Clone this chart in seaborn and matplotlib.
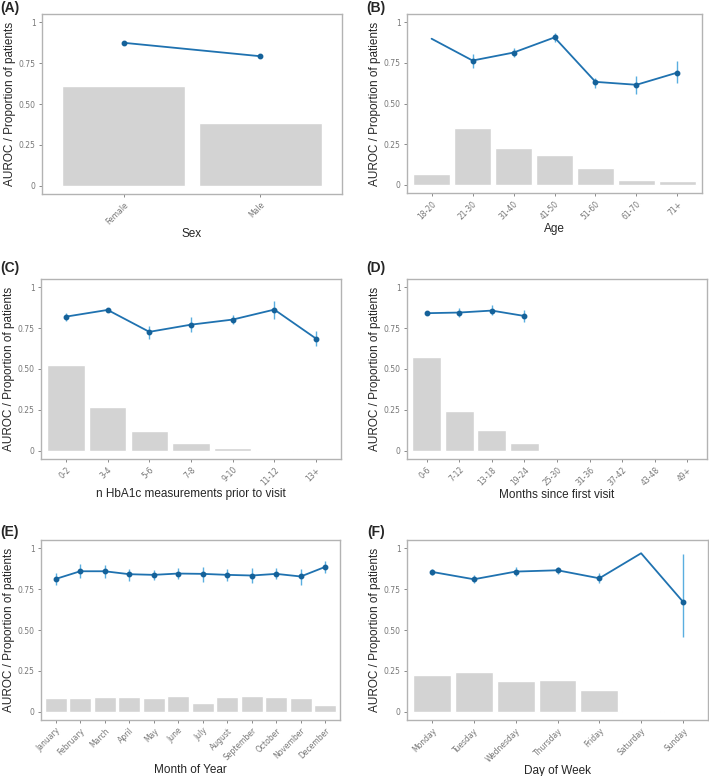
import numpy as np
import pandas as pd
import seaborn as sns
import matplotlib
matplotlib.use("Agg")
import matplotlib.pyplot as plt

# panel categories
sex = ["Female", "Male"]
age = ["18-20", "21-30", "31-40", "41-50", "51-60", "61-70", "71+"]
hba1c = ["0-2", "3-4", "5-6", "7-8", "9-10", "11-12", "13+"]
months = ["0-6", "7-12", "13-18", "19-24", "25-30", "31-36", "37-42", "43-48", "49+"]
month_year = ["January", "February", "March", "April", "May", "June", "July",
              "August", "September", "October", "November", "December"]
weekday = ["Monday", "Tuesday", "Wednesday", "Thursday", "Friday", "Saturday", "Sunday"]

# proportion of patients (bars)
sex_prop = [0.611, 0.383]
age_prop = [0.067, 0.350, 0.226, 0.183, 0.104, 0.029, 0.024]
hba1c_prop = [0.527, 0.265, 0.120, 0.049, 0.016, 0.008, 0.006]
months_prop = [0.573, 0.241, 0.127, 0.049]
month_year_prop = [0.086, 0.082, 0.090, 0.088, 0.086, 0.098, 0.053, 0.088, 0.096, 0.088, 0.082, 0.039]
weekday_prop = [0.222, 0.243, 0.190, 0.194, 0.131, 0.004, 0.004]

# AUROC (line) with CI bounds (nan = no CI)
sex_auc = [0.874, 0.792]
sex_lo = [0.868, 0.786]
sex_hi = [0.880, 0.798]
age_auc = [0.898, 0.764, 0.813, 0.906, 0.633, 0.615, 0.690]
age_lo = [np.nan, 0.719, 0.787, 0.879, 0.593, 0.561, 0.629]
age_hi = [np.nan, 0.807, 0.839, 0.933, 0.656, 0.669, 0.760]
hba1c_auc = [0.820, 0.861, 0.727, 0.771, 0.802, 0.863, 0.686]
hba1c_lo = [0.796, 0.851, 0.684, 0.727, 0.772, 0.804, 0.639]
hba1c_hi = [0.844, 0.871, 0.765, 0.816, 0.833, 0.913, 0.733]
months_auc = [0.841, 0.845, 0.857, 0.824]
months_lo = [0.833, 0.819, 0.827, 0.786]
months_hi = [0.849, 0.871, 0.890, 0.863]
month_year_auc = [0.812, 0.859, 0.859, 0.841, 0.837, 0.845, 0.843, 0.837, 0.833, 0.843, 0.827, 0.886]
month_year_lo = [0.776, 0.816, 0.820, 0.800, 0.804, 0.812, 0.796, 0.800, 0.788, 0.810, 0.777, 0.851]
month_year_hi = [0.847, 0.904, 0.898, 0.874, 0.869, 0.880, 0.888, 0.873, 0.876, 0.878, 0.871, 0.922]
weekday_auc = [0.855, 0.810, 0.857, 0.865, 0.816, 0.969, 0.673]
weekday_lo = [0.835, 0.786, 0.829, 0.845, 0.786, np.nan, 0.455]
weekday_hi = [0.875, 0.837, 0.888, 0.886, 0.851, np.nan, 0.963]

# tag, xlabel, categories, bars, auc, lo, hi, axes box in px, tag position in px
panels = [
    ("(A)", "Sex", sex, sex_prop, sex_auc, sex_lo, sex_hi, (42, 14, 342, 194), (0, 1)),
    ("(B)", "Age", age, age_prop, age_auc, age_lo, age_hi, (407, 14, 702, 193), (366, 1)),
    ("(C)", "n HbA1c measurements prior to visit", hba1c, hba1c_prop, hba1c_auc, hba1c_lo, hba1c_hi,
     (41, 279, 341, 459), (0, 261)),
    ("(D)", "Months since first visit", months, months_prop, months_auc, months_lo, months_hi,
     (407, 279, 707, 459), (366, 261)),
    ("(E)", "Month of Year", month_year, month_year_prop, month_year_auc, month_year_lo, month_year_hi,
     (41, 540, 340, 720), (0, 525)),
    ("(F)", "Day of Week", weekday, weekday_prop, weekday_auc, weekday_lo, weekday_hi,
     (407, 540, 708, 720), (367, 525)),
]

sns.set_style("white")
plt.rcParams["font.family"] = ["Liberation Sans", "DejaVu Sans"]

W, H = 709, 776
fig = plt.figure(figsize=(W / 100, H / 100), dpi=100)

line_col = "#1f72b0"
err_col = "#5aaee0"
frame_col = "#b3b3b3"

for tag, xlabel, cats, prop, auc, lo, hi, (x0, y0, x1, y1), (tx, ty) in panels:
    ax = fig.add_axes([x0 / W, 1 - y1 / H, (x1 - x0) / W, (y1 - y0) / H])
    bars = pd.DataFrame({"cat": cats[:len(prop)], "prop": prop})
    sns.barplot(data=bars, x="cat", y="prop", order=cats, color="#d3d3d3",
                width=0.9, saturation=1, ax=ax)
    pos = np.arange(len(auc))
    auc = np.array(auc)
    lo = np.array(lo)
    hi = np.array(hi)
    ax.plot(pos, auc, color=line_col, lw=1.3, zorder=3)
    has_ci = ~np.isnan(lo)
    ax.errorbar(pos[has_ci], auc[has_ci],
                yerr=[auc[has_ci] - lo[has_ci], hi[has_ci] - auc[has_ci]],
                fmt="none", ecolor=err_col, elinewidth=1.0, capsize=0, zorder=2)
    ax.plot(pos[has_ci], auc[has_ci], "o", color="#15629a", ms=3.2, zorder=4)

    ax.set_xlim(-0.6, len(cats) - 0.4)
    ax.set_ylim(-0.05, 1.05)
    ax.set_yticks([0, 0.25, 0.5, 0.75, 1])
    ax.set_yticklabels(["0", "0.25", "0.50", "0.75", "1"])
    ax.set_xticks(range(len(cats)))
    ax.set_xticklabels(cats, rotation=45, ha="right", rotation_mode="anchor")
    ax.tick_params(axis="both", labelsize=5.5, labelcolor="#777777", color="#777777",
                   length=2.5, width=0.6, direction="out", pad=2, bottom=True, left=True)
    for lab in ax.get_xticklabels() + ax.get_yticklabels():
        lab.set_family("DejaVu Sans")
    for sp in ax.spines.values():
        sp.set_color(frame_col)
        sp.set_linewidth(1.0)
    ax.set_xlabel(xlabel, fontsize=8.5, labelpad=1)
    ax.set_ylabel("AUROC / Proportion of patients", fontsize=8.5, labelpad=2)
    fig.text(tx / W, 1 - ty / H, tag, fontsize=10, fontweight="bold", ha="left", va="top")

fig.savefig("out.png", dpi=100)
